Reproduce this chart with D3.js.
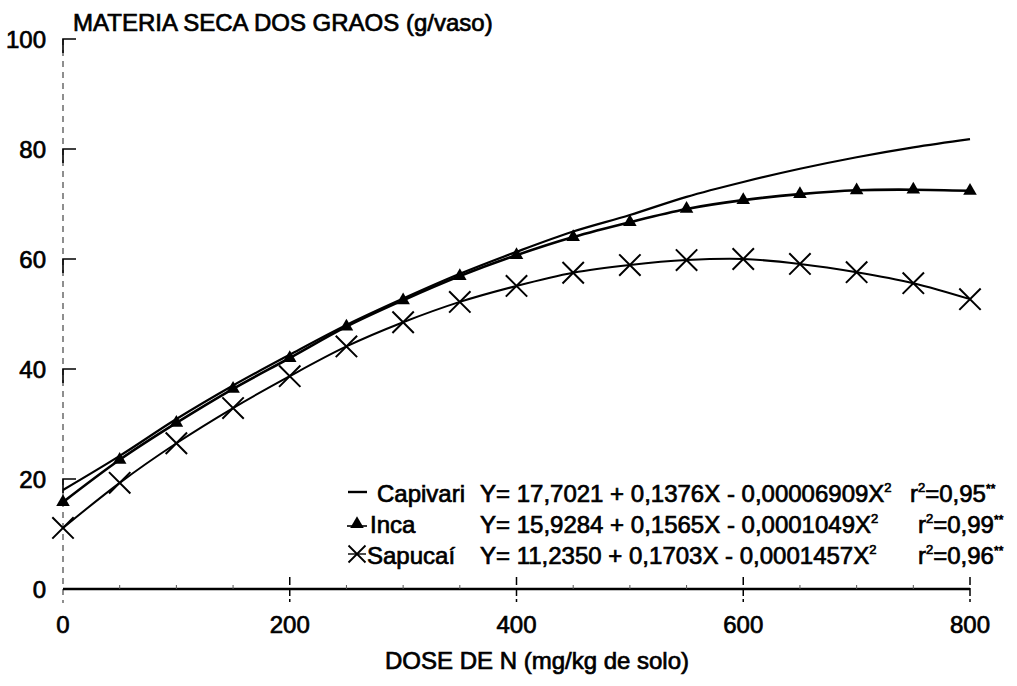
<!DOCTYPE html>
<html>
<head>
<meta charset="utf-8">
<script src="https://cdn.jsdelivr.net/npm/d3@7"></script>
<style>
  body { margin: 0; background: #fff; }
  text { font-family: "Liberation Sans", Arial, sans-serif; fill: #000; stroke: #000; stroke-width: 0.7px; }
</style>
</head>
<body>
<div id="chart"></div>
<script>
// doses (mg/kg de solo)
var doses = [0, 50, 100, 150, 200, 250, 300, 350, 400, 450, 500, 550, 600, 650, 700, 750, 800];
// values (g/vaso)
var capivari = [18.0, 24.2, 30.9, 37.0, 42.6, 48.0, 52.8, 57.3, 61.3, 65.0, 68.0, 71.3, 74.0, 76.4, 78.5, 80.3, 81.8];
var inca     = [15.8, 23.5, 30.2, 36.4, 42.0, 47.7, 52.5, 56.9, 60.7, 64.0, 66.7, 69.1, 70.7, 71.8, 72.5, 72.6, 72.4];
var sapucai  = [11.1, 19.3, 26.5, 32.9, 38.7, 44.1, 48.5, 52.2, 55.1, 57.5, 58.9, 59.8, 60.0, 59.1, 57.6, 55.6, 52.7];
var xTicks = [0, 200, 400, 600, 800];
var xMinor = [50, 100, 150, 250, 300, 350, 450, 500, 550, 650, 700, 750];
var yTicks = [0, 20, 40, 60, 80, 100];
var legendNames = ["Capivari", "Inca", "Sapucaí"];
var legendEq = [
    ["17,7021", "0,1376X", "0,00006909X", "0,95"],
    ["15,9284", "0,1565X", "0,0001049X", "0,99"],
    ["11,2350", "0,1703X", "0,0001457X", "0,96"]
];

var width = 1017, height = 686;
var svg = d3.select("#chart").append("svg").attr("width", width).attr("height", height);

var x = d3.scaleLinear().domain([0, 800]).range([63, 970]);
var y = d3.scaleLinear().domain([0, 100]).range([589, 39]);

// y axis: broken dashed line + short ticks to the right
svg.append("line")//
.attr("x1", x(0)).attr("x2", x(0)).attr("y1", y(100)).attr("y2", y(0) + 14)//
.attr("stroke", "#444").attr("stroke-width", 1.2).attr("stroke-dasharray", "6,5");
svg.selectAll(".ytick").data(yTicks.filter(function(d) { return d > 0; })).enter().append("path")//
.attr("d", function(d) { return "M" + (x(0) + 13) + "," + y(d) + "H" + x(0) + "V" + (y(d) + 14); })//
.attr("fill", "none").attr("stroke", "#000").attr("stroke-width", 1.6);
svg.selectAll(".ylab").data(yTicks).enter().append("text")//
.attr("x", 46).attr("y", function(d) { return y(d); }).attr("dy", "0.36em")//
.attr("text-anchor", "end").attr("font-size", 24)//
.text(function(d) { return d; });

// x axis
svg.append("line")//
.attr("x1", x(0)).attr("x2", x(800)).attr("y1", y(0)).attr("y2", y(0))//
.attr("stroke", "#000").attr("stroke-width", 2.4);
svg.selectAll(".xtick").data(xTicks.filter(function(d) { return d > 0; })).enter().append("line")//
.attr("x1", function(d) { return x(d); }).attr("x2", function(d) { return x(d); })//
.attr("y1", y(0) - 12).attr("y2", y(0) + 13)//
.attr("stroke", "#000").attr("stroke-width", 1.5).attr("stroke-dasharray", "8,3");
svg.selectAll(".xminor").data(xMinor).enter().append("line")//
.attr("x1", function(d) { return x(d); }).attr("x2", function(d) { return x(d); })//
.attr("y1", y(0) - 4).attr("y2", y(0))//
.attr("stroke", "#555").attr("stroke-width", 1);
svg.selectAll(".xlab").data(xTicks).enter().append("text")//
.attr("x", function(d) { return x(d); }).attr("y", 633)//
.attr("text-anchor", "middle").attr("font-size", 24)//
.text(function(d) { return d; });

// axis titles
svg.append("text").attr("x", 73).attr("y", 31)//
.attr("font-size", 24)//
.text("MATERIA SECA DOS GRAOS (g/vaso)");
svg.append("text").attr("x", 537).attr("y", 669).attr("text-anchor", "middle")//
.attr("font-size", 24)//
.text("DOSE DE N (mg/kg de solo)");

// fitted curves
function makeLine(vals) {
    return d3.line()//
    .x(function(d, i) { return x(doses[i]); })//
    .y(function(d) { return y(d); })//
    .curve(d3.curveCatmullRom)(vals);
}
svg.append("path").attr("d", makeLine(capivari)).attr("fill", "none").attr("stroke", "#000").attr("stroke-width", 2.2);
svg.append("path").attr("d", makeLine(inca)).attr("fill", "none").attr("stroke", "#000").attr("stroke-width", 2.6);
svg.append("path").attr("d", makeLine(sapucai)).attr("fill", "none").attr("stroke", "#000").attr("stroke-width", 2);

// markers
var tri = d3.symbol().type(d3.symbolTriangle).size(80);
var cross = d3.symbol().type(d3.symbolX).size(300);
svg.selectAll(".tri").data(inca).enter().append("path")//
.attr("d", tri).attr("fill", "#000")//
.attr("transform", function(d, i) { return "translate(" + x(doses[i]) + "," + y(d) + ")"; });
svg.selectAll(".cross").data(sapucai).enter().append("path")//
.attr("d", cross).attr("fill", "none").attr("stroke", "#000").attr("stroke-width", 2)//
.attr("transform", function(d, i) { return "translate(" + x(doses[i]) + "," + y(d) + ")"; });

// legend
var legY = [502, 533, 564];
var legFont = 24;
svg.append("line").attr("x1", 348).attr("x2", 367).attr("y1", legY[0] - 10).attr("y2", legY[0] - 10)//
.attr("stroke", "#000").attr("stroke-width", 2.4);
svg.append("path").attr("d", d3.symbol().type(d3.symbolTriangle).size(80))//
.attr("transform", "translate(357," + (legY[1] - 9) + ")").attr("fill", "#000");
svg.append("line").attr("x1", 347).attr("x2", 367).attr("y1", legY[1] - 7).attr("y2", legY[1] - 7)//
.attr("stroke", "#000").attr("stroke-width", 1.6);
svg.append("path").attr("d", d3.symbol().type(d3.symbolX).size(190))//
.attr("transform", "translate(357," + (legY[2] - 10) + ")").attr("fill", "none").attr("stroke", "#000").attr("stroke-width", 1.8);
svg.append("line").attr("x1", 348).attr("x2", 366).attr("y1", legY[2] - 10).attr("y2", legY[2] - 10)//
.attr("stroke", "#000").attr("stroke-width", 1.4);

svg.selectAll(".legname").data(legendNames).enter().append("text")//
.attr("x", function(d, i) { return [377, 370, 367][i]; })//
.attr("y", function(d, i) { return legY[i]; })//
.attr("font-size", legFont)//
.text(function(d) { return d; });

var eq = svg.selectAll(".legeq").data(legendEq).enter().append("text")//
.attr("x", 480).attr("y", function(d, i) { return legY[i]; })//
.attr("font-size", legFont);
eq.append("tspan").text(function(d) { return "Y= " + d[0] + " + " + d[1] + " - " + d[2]; });
eq.append("tspan").attr("dy", -10).attr("font-size", 13).text("2");

var r2 = svg.selectAll(".legr2").data(legendEq).enter().append("text")//
.attr("x", function(d, i) { return i === 0 ? 910 : 918; }).attr("y", function(d, i) { return legY[i]; })//
.attr("font-size", legFont);
r2.append("tspan").text("r");
r2.append("tspan").attr("dy", -10).attr("font-size", 13).text("2");
r2.append("tspan").attr("dy", 10).text(function(d) { return "=" + d[3]; });
r2.append("tspan").attr("dy", -9).attr("font-size", 12).text("**");
</script>
</body>
</html>
